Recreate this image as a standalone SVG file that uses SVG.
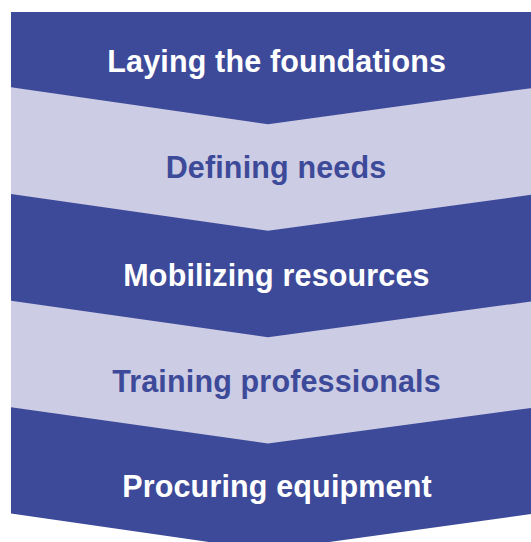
<svg xmlns="http://www.w3.org/2000/svg" width="531" height="542" viewBox="0 0 531 542">
<style>
.dark{fill:#3D4A99}
.light{fill:#CCCCE4}
.t{font-family:"Liberation Sans",Arial,Helvetica,sans-serif;font-weight:bold;font-size:30.5px;letter-spacing:0.15px;text-anchor:middle}
.tw{fill:#FFFFFF}
.tb{fill:#3D4A99}
</style>
<rect width="531" height="542" fill="#FFFFFF"/>
<g id="step5">
<polygon class="dark" points="11,407 531,407 531,514 268,550.5 11,513.5"/>
<text class="t tw" x="277" y="496.7">Procuring equipment</text>
</g>
<g id="step4">
<polygon class="light" points="11,300.7 531,300.7 531,408 268,443.5 11,407.3"/>
<text class="t tb" x="276.5" y="392.3">Training professionals</text>
</g>
<g id="step3">
<polygon class="dark" points="11,194 531,194 531,301.5 268,337.3 11,300.7"/>
<text class="t tw" x="276.5" y="286">Mobilizing resources</text>
</g>
<g id="step2">
<polygon class="light" points="11,87.3 531,87.3 531,194.8 268,230.7 11,194"/>
<text class="t tb" x="276" y="178.3">Defining needs</text>
</g>
<g id="step1">
<polygon class="dark" points="11,12 531,12 531,88.2 268,124.3 11,87.3"/>
<text class="t tw" x="276.7" y="72.3">Laying the foundations</text>
</g>
<g id="connectors"/>
</svg>
